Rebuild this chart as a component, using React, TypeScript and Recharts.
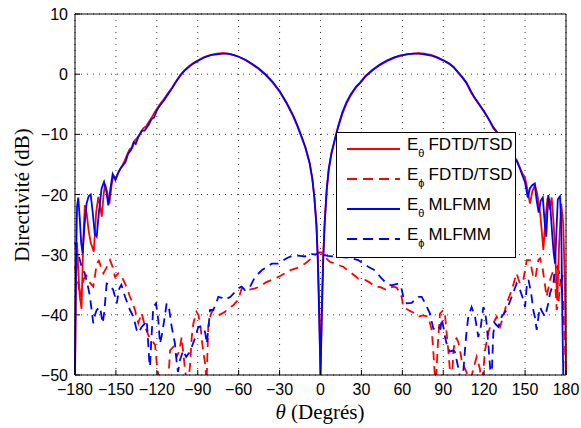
import React from 'react';
import { LineChart, Line, XAxis, YAxis, CartesianGrid } from 'recharts';

// [theta (deg), directivity (dB)]
const ethFdtd: [number, number][] = [
  [-180, -50], [-179.3, -34], [-178.5, -28], [-177.5, -33], [-176.5, -37], [-175.2, -39], [-174, -28],
  [-172.8, -21.8], [-171.5, -23], [-170, -26], [-168.5, -28], [-166.2, -29.5], [-164.5, -23], [-162.9, -20.4],
  [-161.5, -22], [-160.4, -23.7], [-159, -20], [-158, -18.3], [-156.5, -19.5], [-154.8, -21.5], [-153.2, -18.5],
  [-151.9, -16.8], [-150, -17.3], [-148, -16.2], [-146, -15.5], [-144, -14.6], [-142, -13.5], [-140, -12.5],
  [-138, -12.2], [-136, -11], [-134, -10.5], [-132, -9.8], [-130, -9], [-128, -8.7], [-126, -8], [-124, -7.3],
  [-122, -6.5], [-120, -5.8], [-118, -5.1], [-115, -4.2], [-112, -3.2], [-109, -2.3], [-106, -1.2], [-103, -0.2],
  [-100, 0.6], [-96, 1.4], [-93, 1.9], [-89, 2.4], [-85, 2.9], [-80, 3.2], [-76, 3.4], [-72, 3.5], [-68, 3.4],
  [-64, 3.2], [-60, 2.9], [-55, 2.3], [-50, 1.6], [-45, 0.8], [-40, -0.2], [-35, -1.4], [-30, -2.9], [-25, -4.8],
  [-20, -7], [-17, -8.6], [-14, -10.4], [-11, -12.3], [-8, -14.8], [-6, -17.5], [-4.5, -20.5], [-3, -25],
  [-2, -30], [-1, -38], [0, -50], [1, -38], [2, -30], [3, -25], [4.5, -19.5], [6, -16], [8, -13.3], [10.5, -11],
  [13, -8.8], [16, -6.6], [19, -4.9], [22, -3.6], [26, -2.2], [29, -1.5], [33, -0.4], [38, 0.6], [43.5, 1.5],
  [49, 2.2], [54, 2.7], [58, 3], [63, 3.3], [68, 3.4], [72, 3.5], [76, 3.4], [81, 3.2], [85, 2.9], [90, 2.3],
  [94, 1.8], [97.5, 1.2], [101, 0.2], [104, -0.6], [107, -1.5], [110, -2.9], [113, -4], [117, -5.3], [120, -6.3],
  [123, -7.4], [126.7, -9], [129, -9.6], [132, -10.5], [135, -11.5], [138, -12.5], [141, -13.5], [144, -14.3],
  [146, -15.4], [148, -16.5], [150, -17.2], [152, -19.5], [153.6, -21.5], [155.3, -19.5], [157.3, -18.4],
  [159, -20], [161, -23], [162.2, -26], [163.4, -29.2], [165, -24], [166.5, -20.5], [168, -22.5], [169.5, -20.5],
  [171, -25], [172.5, -32], [173.6, -37.6], [175, -28], [176.5, -21.5], [178, -25], [179.2, -35], [180, -50],
];

const ephFdtd: [number, number][] = [
  [-180, -32], [-178.8, -33.6], [-177.5, -35], [-176.3, -37], [-175, -35.5], [-173.5, -34], [-171.5, -33.5],
  [-169, -34.7], [-166.6, -35.3], [-165, -33], [-164.1, -31.5], [-162.5, -31], [-161, -32], [-159.2, -33.1],
  [-157, -32.2], [-155.6, -31.5], [-154.3, -30.9], [-152.5, -32], [-150.7, -33.7], [-148.2, -33.1], [-146, -33.5],
  [-143.3, -34.8], [-141.5, -35.8], [-139.7, -37], [-137.8, -38], [-136, -39.2], [-133.6, -41.4], [-131.1, -39.7],
  [-128.7, -42], [-126, -43.5], [-123.8, -44.2], [-121.3, -45], [-119.6, -49.2], [-117, -52], [-114, -54],
  [-111.6, -51], [-110.3, -45.9], [-107.9, -45.3], [-105.5, -47], [-103.5, -46], [-101.8, -43.7], [-99.3, -49.2],
  [-97.5, -52], [-95.7, -48.6], [-94.4, -43.7], [-93.2, -41.4], [-91, -39.5], [-89.5, -40], [-87.7, -42.5],
  [-86.6, -45], [-84.7, -48], [-83.5, -51], [-82.3, -42], [-80.5, -40], [-79, -39.2], [-77.4, -39.5], [-74, -40],
  [-70, -39.5], [-67.6, -38.9], [-63.9, -38.4], [-60.3, -37.5], [-57.8, -35.6], [-55.4, -35.6], [-52, -35.8],
  [-48, -35.6], [-44.4, -35.3], [-40, -34.6], [-35.8, -34.2], [-30.9, -33.7], [-26, -33.1], [-22.4, -32.6],
  [-17, -32.2], [-11.4, -31.5], [-6.5, -30.6], [-4, -30], [-2, -29.8], [0, -29.6], [2, -29.8], [3.3, -30.3],
  [5, -30.8], [7, -31.2], [11, -31.5], [14, -31.8], [16.7, -32], [20, -32.6], [24, -33.3], [27.7, -34],
  [32.6, -34.2], [36, -34.6], [39.9, -35.3], [44, -35.4], [48.5, -35.9], [51, -35.5], [53.4, -35.3], [56, -35.5],
  [59.5, -37], [60.7, -38.7], [64.4, -39.2], [67, -39.5], [69.3, -39.8], [71.7, -40.3], [75, -40.1], [79, -40.3],
  [81.5, -42.5], [82.7, -45.9], [83.5, -49], [84.5, -52], [86, -45], [87.6, -39.8], [90, -39.2], [91.3, -40],
  [92.5, -43.1], [93.7, -45.9], [94.8, -49], [96, -52], [97.5, -46], [98.6, -44.2], [99.8, -43.9], [101, -44.5],
  [102.3, -45.9], [103.5, -47.5], [105, -48.5], [107, -49.5], [109, -52], [112, -49], [114.5, -47], [116.9, -49],
  [118, -52], [119.5, -49], [120.6, -45.9], [123, -43.1], [124.3, -42], [126.7, -41.4], [129.2, -40.3],
  [130.5, -41.2], [131.6, -42], [134, -40.3], [136.5, -38.1], [140.2, -35.9], [143.8, -33.1], [145, -34],
  [146.3, -34.8], [148.5, -34.5], [151.2, -30.9], [153.6, -30.9], [156, -33.7], [157.5, -34], [159.7, -30.9],
  [161, -30.6], [163, -32.5], [165.8, -37], [168.3, -34.2], [170.7, -32.6], [172, -34.5], [173.2, -39.2],
  [174.5, -38], [176, -34], [178, -38], [180, -50],
];

const ethMlfmm: [number, number][] = [
  [-180, -50], [-179.3, -32], [-178.5, -22], [-177.6, -20.5], [-176.5, -24], [-175.5, -28], [-174.4, -29.8],
  [-173, -25], [-171.5, -21.5], [-170, -20.3], [-168.5, -20], [-167, -23], [-165.5, -26.5], [-164.1, -27],
  [-162.5, -23], [-160.5, -19], [-158.7, -17.9], [-157, -19.5], [-155.6, -21.8], [-154, -19], [-152.4, -16.6],
  [-150.4, -17.6], [-148.5, -16.5], [-146.5, -15.6], [-145, -15.2], [-143, -14.6], [-141, -13.2], [-139, -12.6],
  [-137, -11.3], [-135.5, -11.6], [-133.5, -10.4], [-131, -9.4], [-129, -9.4], [-126, -8.4], [-124, -7.5],
  [-122, -7.2], [-120, -6], [-118, -5.3], [-115, -4.4], [-112, -3.4], [-109, -2.4], [-106, -1.3], [-103, -0.3],
  [-100, 0.5], [-96, 1.3], [-93, 1.8], [-89, 2.3], [-85, 2.8], [-80, 3.2], [-76, 3.3], [-72, 3.4], [-68, 3.4],
  [-64, 3.2], [-60, 2.9], [-55, 2.4], [-50, 1.7], [-45, 0.9], [-40, -0.1], [-35, -1.3], [-30, -2.8], [-25, -4.7],
  [-20, -6.9], [-17, -8.5], [-14, -10.3], [-11, -12.2], [-8, -14.7], [-6, -17.3], [-4.5, -20.5], [-3, -25],
  [-2, -31], [-1, -40], [0, -50], [1, -40], [2, -31], [3, -25], [4.5, -19.3], [6, -15.8], [8, -13.1],
  [10.5, -10.8], [13, -8.6], [16, -6.4], [19, -4.7], [22, -3.4], [26, -2.1], [29, -1.4], [33, -0.3], [38, 0.7],
  [43.5, 1.6], [49, 2.3], [54, 2.8], [58, 3.1], [63, 3.3], [68, 3.4], [72, 3.4], [76, 3.3], [81, 3.1], [85, 2.8],
  [90, 2.3], [94, 1.8], [97.5, 1.2], [101, 0.3], [104, -0.5], [107, -1.4], [110, -2.7], [113, -3.9], [117, -5.2],
  [120, -6.2], [123, -7.3], [126.7, -8.8], [129, -9.5], [132, -10.4], [135, -11.4], [138, -12.4], [141, -13.6],
  [144, -14.5], [146, -15.6], [148, -16.8], [150, -18], [152, -20.5], [153.5, -19], [155, -18.5], [157, -18.2],
  [158.5, -21], [160, -23], [161.5, -21], [163, -20.5], [164.5, -25], [165.5, -27], [167, -20.1], [168.5, -22],
  [170, -27], [171, -29.8], [172, -31.5], [173, -26], [174, -20.8], [175.6, -20.3], [176.5, -25], [177.3, -40],
  [178, -50],
];

const ephMlfmm: [number, number][] = [
  [-180, -28], [-178.8, -29], [-176.3, -31], [-174.5, -32.5], [-173, -33], [-170.2, -35.6], [-169, -37],
  [-167.8, -39.2], [-166.6, -41.4], [-165.3, -40], [-164.1, -39.2], [-161.7, -38.7], [-159.7, -41.4],
  [-158.5, -39.5], [-156.8, -34.8], [-154.5, -35], [-151.9, -35.9], [-149.4, -38.1], [-147.5, -35.6], [-146, -35],
  [-143.3, -37], [-139.7, -39.2], [-137.2, -40.3], [-134.8, -42.5], [-133.5, -43], [-131.1, -42], [-129, -41.5],
  [-127.4, -40.9], [-126.3, -44.8], [-125.6, -47.5], [-125, -48.6], [-124, -44], [-122.6, -38.7], [-120.6, -38.1],
  [-118.9, -40.9], [-117.7, -44.8], [-116, -43], [-114, -40], [-112.8, -38.1], [-111, -39], [-109.1, -42],
  [-106.7, -44.8], [-105.4, -48], [-104.5, -49.5], [-103, -47.5], [-100.6, -45.9], [-98.5, -47], [-95.7, -46.1],
  [-92, -43.9], [-89.6, -42], [-85.9, -42], [-84.5, -43], [-83.4, -44.8], [-82.3, -42.5], [-81, -39.2],
  [-78.6, -39.2], [-76.1, -37.8], [-74.9, -37], [-72, -37.2], [-70, -37.5], [-66, -37], [-61.5, -35.9],
  [-59.5, -35.5], [-57.8, -35.3], [-55.4, -35.9], [-52, -35.5], [-48, -33.7], [-43.1, -32.6], [-35.8, -31.5],
  [-31, -31.5], [-24.8, -30.6], [-19.9, -30.1], [-15, -30.2], [-11.4, -30.3], [-7.7, -29.8], [-4, -30],
  [0, -29.5], [2.1, -30], [5, -30.2], [10, -30.3], [15, -30.4], [20, -30.5], [24, -30.7], [27.7, -30.9],
  [31.4, -31.5], [35, -32], [39.9, -32.6], [42, -33.2], [45, -34], [48.5, -34.8], [52, -35.1], [57, -34.8],
  [59, -35.3], [60.7, -37], [63.2, -38.1], [66.9, -38], [69, -37.5], [71.7, -37], [74.2, -37], [77, -38.2],
  [80.3, -39.8], [82.7, -42.3], [85.2, -42.5], [86.5, -42], [88, -42.3], [88.9, -40.6], [90.5, -42.5],
  [91.3, -43.7], [92.5, -44.8], [94.9, -46.1], [97.4, -45.9], [98.6, -46.2], [99.8, -47.5], [101, -48.8],
  [103.5, -52], [104.7, -49.5], [105.9, -45.9], [107.2, -42.5], [108.4, -40.3], [110.8, -38.7], [113.3, -40.3],
  [115.7, -43.7], [117.5, -42], [119.4, -38.7], [120.6, -39.5], [121.8, -41.4], [123, -44.8], [124.3, -48.6],
  [125.2, -52], [126.7, -43.1], [127.8, -41.4], [130.4, -42], [132.8, -40.3], [136.5, -39.2], [140.2, -37],
  [143.8, -34.8], [146.3, -35.9], [148, -37], [150, -38.7], [151.2, -35.3], [152.5, -34.2], [154.5, -36.5],
  [156, -39.2], [157.3, -40.5], [158.5, -42.5], [160, -40], [161, -38.7], [162.5, -39.5], [164.6, -40.3],
  [167, -38.1], [168.3, -36.4], [170.7, -34.8], [172, -32.6], [173.6, -32], [175, -33], [176.5, -34.5],
  [178, -33], [180, -33],
];

const xTicks = [-180, -150, -120, -90, -60, -30, 0, 30, 60, 90, 120, 150, 180];
const yTicks = [-50, -40, -30, -20, -10, 0, 10];

const legendItems = [
  { sub: 'θ', name: 'FDTD/TSD', color: '#ff0000', dash: undefined },
  { sub: 'ϕ', name: 'FDTD/TSD', color: '#ff0000', dash: '10 6' },
  { sub: 'θ', name: 'MLFMM', color: '#0000ff', dash: undefined },
  { sub: 'ϕ', name: 'MLFMM', color: '#0000ff', dash: '10 6' },
];

const toPoints = (pairs: [number, number][]) => pairs.map(([x, y]) => ({ x, y }));

const sans = '"Liberation Sans", Arial, Helvetica, sans-serif';
const serif = '"Liberation Serif", "Times New Roman", serif';

const fmt = (v: number) => (v < 0 ? '\u2212' + Math.abs(v) : String(v));

// ticks point inwards like matlab; tickSize is 0 so x/y sit on the axis line
const BottomTick = ({ x, y, payload }: any) => (
  <g>
    <line x1={x} y1={y} x2={x} y2={y - 5} stroke="#000" />
    <text x={x} y={y + 20} textAnchor="middle" fontSize={16} fontFamily={sans} fill="#000">
      {fmt(payload.value)}
    </text>
  </g>
);

const TopTick = ({ x, y }: any) => <line x1={x} y1={y} x2={x} y2={y + 5} stroke="#000" />;

const LeftTick = ({ x, y, payload }: any) => (
  <g>
    <line x1={x} y1={y} x2={x + 5} y2={y} stroke="#000" />
    <text x={x - 7} y={y + 6} textAnchor="end" fontSize={16} fontFamily={sans} fill="#000">
      {fmt(payload.value)}
    </text>
  </g>
);

const RightTick = ({ x, y }: any) => <line x1={x} y1={y} x2={x - 5} y2={y} stroke="#000" />;

const LegendBox = () => (
  <svg width={180} height={126} style={{ display: 'block' }}>
    <rect x={0.5} y={0.5} width={179} height={125} fill="#fff" stroke="#000" strokeWidth={1} />
    {legendItems.map((it, i) => {
      const ly = 17 + i * 30;
      return (
        <g key={i}>
          <line x1={11} y1={ly} x2={64} y2={ly} stroke={it.color} strokeWidth={1.8} strokeDasharray={it.dash} />
          <text x={71} y={ly + 1} fontSize={17} fontFamily={sans} fill="#000">
            E
            <tspan dy={7} fontSize={11}>{it.sub}</tspan>
            <tspan dy={-7} dx={4}>{it.name}</tspan>
          </text>
        </g>
      );
    })}
  </svg>
);

const App: React.FC = () => {
  return (
    <div style={{ position: 'absolute', left: 0, top: 0, width: 581, height: 428, background: '#fff' }}>
      <LineChart width={581} height={428} margin={{ top: 0, right: 0, bottom: 0, left: 0 }}>
        <CartesianGrid stroke="#333" strokeDasharray="1 5" />
        <XAxis
          dataKey="x"
          type="number"
          domain={[-180, 180]}
          ticks={xTicks}
          height={53}
          tickSize={0}
          tickMargin={0}
          tickLine={false}
          axisLine={{ stroke: '#000' }}
          tick={<BottomTick />}
          interval={0}
        />
        <XAxis
          xAxisId="top"
          orientation="top"
          type="number"
          domain={[-180, 180]}
          ticks={xTicks}
          height={14}
          tickSize={0}
          tickMargin={0}
          tickLine={false}
          axisLine={{ stroke: '#000' }}
          tick={<TopTick />}
          interval={0}
        />
        <YAxis
          type="number"
          domain={[-50, 10]}
          ticks={yTicks}
          allowDataOverflow
          width={75}
          tickSize={0}
          tickMargin={0}
          tickLine={false}
          axisLine={{ stroke: '#000' }}
          tick={<LeftTick />}
          interval={0}
        />
        <YAxis
          yAxisId="right"
          orientation="right"
          type="number"
          domain={[-50, 10]}
          ticks={yTicks}
          width={15}
          tickSize={0}
          tickMargin={0}
          tickLine={false}
          axisLine={{ stroke: '#000' }}
          tick={<RightTick />}
          interval={0}
        />
        <Line data={toPoints(ephFdtd)} dataKey="y" stroke="#ff0000" strokeWidth={1.8} strokeDasharray="9 6" dot={false} activeDot={false} isAnimationActive={false} />
        <Line data={toPoints(ephMlfmm)} dataKey="y" stroke="#0000ff" strokeWidth={1.8} strokeDasharray="9 6" dot={false} activeDot={false} isAnimationActive={false} />
        <Line data={toPoints(ethFdtd)} dataKey="y" stroke="#ff0000" strokeWidth={1.8} dot={false} activeDot={false} isAnimationActive={false} />
        <Line data={toPoints(ethMlfmm)} dataKey="y" stroke="#0000ff" strokeWidth={1.8} dot={false} activeDot={false} isAnimationActive={false} />
      </LineChart>
      <div style={{ position: 'absolute', left: 336, top: 132 }}>
        <LegendBox />
      </div>
      <div
        style={{
          position: 'absolute',
          left: 22,
          top: 195,
          transform: 'translate(-50%, -50%) rotate(-90deg)',
          whiteSpace: 'nowrap',
          fontFamily: serif,
          fontSize: 21,
          lineHeight: '22px',
          color: '#000',
        }}
      >
        Directivité (dB)
      </div>
      <div
        style={{
          position: 'absolute',
          left: 320,
          top: 412,
          transform: 'translate(-50%, -50%)',
          whiteSpace: 'nowrap',
          fontFamily: serif,
          fontSize: 21,
          lineHeight: '22px',
          color: '#000',
        }}
      >
        <i>θ</i> (Degrés)
      </div>
    </div>
  );
};

export default App;
